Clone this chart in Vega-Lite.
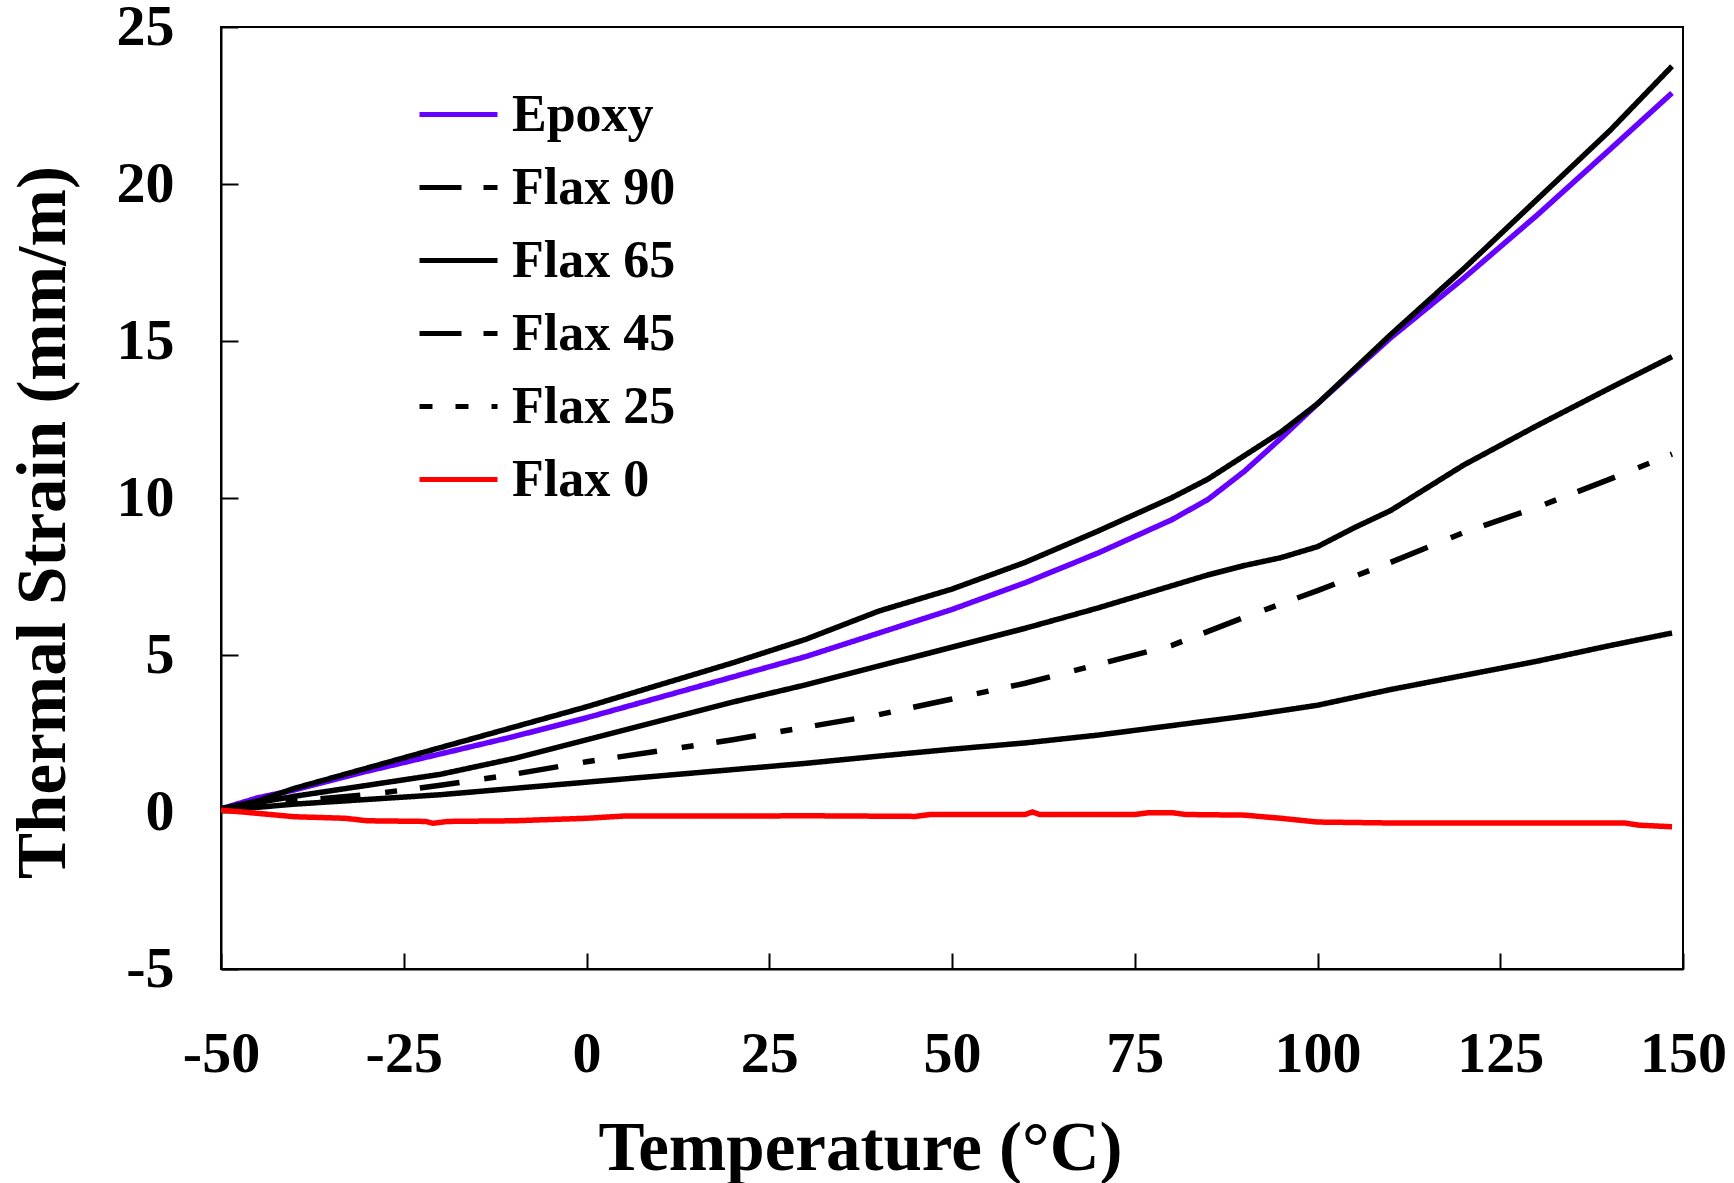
{
  "$schema": "https://vega.github.io/schema/vega-lite/v6.json",
  "autosize": {"type": "none"},
  "padding": {"left": 221, "top": 27, "right": 51, "bottom": 214},
  "width": 1462,
  "height": 942,
  "background": "white",
  "config": {
    "view": {"stroke": "black", "strokeWidth": 2},
    "axis": {
      "domainColor": "black", "domainWidth": 2,
      "tickColor": "black", "tickWidth": 2,
      "labelFont": "Liberation Serif", "labelFontWeight": "bold", "labelFontSize": 58, "labelColor": "black",
      "titleFont": "Liberation Serif", "titleFontWeight": "bold", "titleFontSize": 69, "titleColor": "black",
      "grid": false
    }
  },
  "data": {"values": [
    {"series": "Epoxy", "T": -50, "strain": 0.1},
    {"series": "Epoxy", "T": -45, "strain": 0.45},
    {"series": "Epoxy", "T": -40, "strain": 0.7},
    {"series": "Epoxy", "T": -30, "strain": 1.3},
    {"series": "Epoxy", "T": -20, "strain": 1.85},
    {"series": "Epoxy", "T": -10, "strain": 2.4},
    {"series": "Epoxy", "T": 0, "strain": 3.0},
    {"series": "Epoxy", "T": 10, "strain": 3.65},
    {"series": "Epoxy", "T": 20, "strain": 4.3},
    {"series": "Epoxy", "T": 30, "strain": 4.95},
    {"series": "Epoxy", "T": 40, "strain": 5.7},
    {"series": "Epoxy", "T": 50, "strain": 6.45},
    {"series": "Epoxy", "T": 60, "strain": 7.3},
    {"series": "Epoxy", "T": 70, "strain": 8.25},
    {"series": "Epoxy", "T": 80, "strain": 9.3},
    {"series": "Epoxy", "T": 85, "strain": 9.95},
    {"series": "Epoxy", "T": 90, "strain": 10.85},
    {"series": "Epoxy", "T": 95, "strain": 11.9},
    {"series": "Epoxy", "T": 100, "strain": 13.0},
    {"series": "Epoxy", "T": 110, "strain": 15.1},
    {"series": "Epoxy", "T": 120, "strain": 17.0},
    {"series": "Epoxy", "T": 130, "strain": 19.0},
    {"series": "Epoxy", "T": 140, "strain": 21.1},
    {"series": "Epoxy", "T": 148.5, "strain": 22.9},

    {"series": "Flax 90", "T": -50, "strain": 0.1},
    {"series": "Flax 90", "T": -45, "strain": 0.35},
    {"series": "Flax 90", "T": -40, "strain": 0.75},
    {"series": "Flax 90", "T": -30, "strain": 1.4},
    {"series": "Flax 90", "T": -20, "strain": 2.05},
    {"series": "Flax 90", "T": -10, "strain": 2.7},
    {"series": "Flax 90", "T": 0, "strain": 3.35},
    {"series": "Flax 90", "T": 10, "strain": 4.05},
    {"series": "Flax 90", "T": 20, "strain": 4.75},
    {"series": "Flax 90", "T": 30, "strain": 5.5},
    {"series": "Flax 90", "T": 40, "strain": 6.4},
    {"series": "Flax 90", "T": 50, "strain": 7.1},
    {"series": "Flax 90", "T": 60, "strain": 7.95},
    {"series": "Flax 90", "T": 70, "strain": 8.95},
    {"series": "Flax 90", "T": 80, "strain": 10.0},
    {"series": "Flax 90", "T": 85, "strain": 10.6},
    {"series": "Flax 90", "T": 90, "strain": 11.35},
    {"series": "Flax 90", "T": 95, "strain": 12.1},
    {"series": "Flax 90", "T": 100, "strain": 13.0},
    {"series": "Flax 90", "T": 110, "strain": 15.2},
    {"series": "Flax 90", "T": 120, "strain": 17.3},
    {"series": "Flax 90", "T": 130, "strain": 19.5},
    {"series": "Flax 90", "T": 140, "strain": 21.7},
    {"series": "Flax 90", "T": 148.5, "strain": 23.75},

    {"series": "Flax 65", "T": -50, "strain": 0.1},
    {"series": "Flax 65", "T": -45, "strain": 0.3},
    {"series": "Flax 65", "T": -40, "strain": 0.5},
    {"series": "Flax 65", "T": -30, "strain": 0.85},
    {"series": "Flax 65", "T": -20, "strain": 1.2},
    {"series": "Flax 65", "T": -10, "strain": 1.7},
    {"series": "Flax 65", "T": 0, "strain": 2.3},
    {"series": "Flax 65", "T": 10, "strain": 2.9},
    {"series": "Flax 65", "T": 20, "strain": 3.5},
    {"series": "Flax 65", "T": 30, "strain": 4.05},
    {"series": "Flax 65", "T": 40, "strain": 4.65},
    {"series": "Flax 65", "T": 50, "strain": 5.25},
    {"series": "Flax 65", "T": 60, "strain": 5.85},
    {"series": "Flax 65", "T": 70, "strain": 6.5},
    {"series": "Flax 65", "T": 80, "strain": 7.2},
    {"series": "Flax 65", "T": 85, "strain": 7.55},
    {"series": "Flax 65", "T": 90, "strain": 7.85},
    {"series": "Flax 65", "T": 95, "strain": 8.1},
    {"series": "Flax 65", "T": 100, "strain": 8.45},
    {"series": "Flax 65", "T": 105, "strain": 9.05},
    {"series": "Flax 65", "T": 110, "strain": 9.6},
    {"series": "Flax 65", "T": 120, "strain": 11.05},
    {"series": "Flax 65", "T": 130, "strain": 12.3},
    {"series": "Flax 65", "T": 140, "strain": 13.5},
    {"series": "Flax 65", "T": 148.5, "strain": 14.5},

    {"series": "Flax 45", "T": -50, "strain": 0.1},
    {"series": "Flax 45", "T": -45, "strain": 0.2},
    {"series": "Flax 45", "T": -40, "strain": 0.35},
    {"series": "Flax 45", "T": -30, "strain": 0.55},
    {"series": "Flax 45", "T": -20, "strain": 0.85},
    {"series": "Flax 45", "T": -10, "strain": 1.2},
    {"series": "Flax 45", "T": 0, "strain": 1.6},
    {"series": "Flax 45", "T": 10, "strain": 1.95},
    {"series": "Flax 45", "T": 20, "strain": 2.3},
    {"series": "Flax 45", "T": 30, "strain": 2.7},
    {"series": "Flax 45", "T": 40, "strain": 3.1},
    {"series": "Flax 45", "T": 50, "strain": 3.6},
    {"series": "Flax 45", "T": 60, "strain": 4.1},
    {"series": "Flax 45", "T": 70, "strain": 4.7},
    {"series": "Flax 45", "T": 80, "strain": 5.3},
    {"series": "Flax 45", "T": 90, "strain": 6.2},
    {"series": "Flax 45", "T": 100, "strain": 7.05},
    {"series": "Flax 45", "T": 110, "strain": 7.95},
    {"series": "Flax 45", "T": 120, "strain": 8.9},
    {"series": "Flax 45", "T": 130, "strain": 9.7},
    {"series": "Flax 45", "T": 140, "strain": 10.6},
    {"series": "Flax 45", "T": 148.5, "strain": 11.4},

    {"series": "Flax 25", "T": -50, "strain": 0.1},
    {"series": "Flax 25", "T": -45, "strain": 0.15},
    {"series": "Flax 25", "T": -40, "strain": 0.25},
    {"series": "Flax 25", "T": -30, "strain": 0.4},
    {"series": "Flax 25", "T": -20, "strain": 0.55},
    {"series": "Flax 25", "T": -10, "strain": 0.75},
    {"series": "Flax 25", "T": 0, "strain": 0.95},
    {"series": "Flax 25", "T": 10, "strain": 1.15},
    {"series": "Flax 25", "T": 20, "strain": 1.35},
    {"series": "Flax 25", "T": 30, "strain": 1.55},
    {"series": "Flax 25", "T": 40, "strain": 1.78},
    {"series": "Flax 25", "T": 50, "strain": 2.0},
    {"series": "Flax 25", "T": 60, "strain": 2.2},
    {"series": "Flax 25", "T": 70, "strain": 2.45},
    {"series": "Flax 25", "T": 80, "strain": 2.75},
    {"series": "Flax 25", "T": 90, "strain": 3.05},
    {"series": "Flax 25", "T": 100, "strain": 3.4},
    {"series": "Flax 25", "T": 110, "strain": 3.9},
    {"series": "Flax 25", "T": 120, "strain": 4.35},
    {"series": "Flax 25", "T": 130, "strain": 4.8},
    {"series": "Flax 25", "T": 140, "strain": 5.3},
    {"series": "Flax 25", "T": 148.5, "strain": 5.7},

    {"series": "Flax 0", "T": -50, "strain": 0.06},
    {"series": "Flax 0", "T": -47, "strain": 0.0},
    {"series": "Flax 0", "T": -40, "strain": -0.15},
    {"series": "Flax 0", "T": -33, "strain": -0.2},
    {"series": "Flax 0", "T": -30, "strain": -0.28},
    {"series": "Flax 0", "T": -22, "strain": -0.3},
    {"series": "Flax 0", "T": -21, "strain": -0.36},
    {"series": "Flax 0", "T": -19, "strain": -0.3},
    {"series": "Flax 0", "T": -10, "strain": -0.28},
    {"series": "Flax 0", "T": 0, "strain": -0.2},
    {"series": "Flax 0", "T": 5, "strain": -0.13},
    {"series": "Flax 0", "T": 20, "strain": -0.13},
    {"series": "Flax 0", "T": 30, "strain": -0.12},
    {"series": "Flax 0", "T": 45, "strain": -0.14},
    {"series": "Flax 0", "T": 47, "strain": -0.08},
    {"series": "Flax 0", "T": 60, "strain": -0.08},
    {"series": "Flax 0", "T": 61, "strain": 0.0},
    {"series": "Flax 0", "T": 62, "strain": -0.08},
    {"series": "Flax 0", "T": 75, "strain": -0.08},
    {"series": "Flax 0", "T": 77, "strain": -0.02},
    {"series": "Flax 0", "T": 80, "strain": -0.02},
    {"series": "Flax 0", "T": 82, "strain": -0.08},
    {"series": "Flax 0", "T": 90, "strain": -0.1},
    {"series": "Flax 0", "T": 95, "strain": -0.2},
    {"series": "Flax 0", "T": 100, "strain": -0.32},
    {"series": "Flax 0", "T": 110, "strain": -0.35},
    {"series": "Flax 0", "T": 125, "strain": -0.35},
    {"series": "Flax 0", "T": 142, "strain": -0.35},
    {"series": "Flax 0", "T": 144, "strain": -0.42},
    {"series": "Flax 0", "T": 148.5, "strain": -0.47}
  ]},
  "mark": {"type": "line", "strokeWidth": 5.5, "clip": true},
  "encoding": {
    "x": {
      "field": "T", "type": "quantitative",
      "scale": {"domain": [-50, 150], "nice": false, "zero": false},
      "axis": {
        "title": "Temperature (°C)",
        "values": [-50, -25, 0, 25, 50, 75, 100, 125, 150],
        "labelExpr": "toString(datum.value)",
        "tickSize": -16, "labelPadding": 72, "labelFlush": false,
        "titleX": 639, "titleY": 200, "titleBaseline": "alphabetic"
      }
    },
    "y": {
      "field": "strain", "type": "quantitative",
      "scale": {"domain": [-5, 25], "nice": false, "zero": false},
      "axis": {
        "title": "Thermal Strain (mm/m)",
        "values": [-5, 0, 5, 10, 15, 20, 25],
        "labelExpr": "toString(datum.value)",
        "tickSize": -17, "labelPadding": 64, "labelFlush": false,
        "titleX": -157, "titleY": 495, "titleAngle": -90, "titleBaseline": "alphabetic", "titleAlign": "center"
      }
    },
    "color": {
      "field": "series", "type": "nominal",
      "scale": {
        "domain": ["Epoxy", "Flax 90", "Flax 65", "Flax 45", "Flax 25", "Flax 0"],
        "range": ["#6600FF", "#000000", "#000000", "#000000", "#000000", "#FF0000"]
      },
      "legend": {
        "title": null, "orient": "none", "legendX": 196, "legendY": 46,
        "padding": 0, "symbolType": "stroke", "symbolSize": 6084, "symbolStrokeWidth": 5,
        "labelFont": "Liberation Serif", "labelFontWeight": "bold", "labelFontSize": 52, "labelColor": "black",
        "labelOffset": 12, "labelLimit": 0, "rowPadding": 5,
        "encode": {"symbols": {"update": {"strokeDash": {"signal": "(datum.value === 'Flax 90' || datum.value === 'Flax 45') ? [42, 22, 14, 0] : (datum.value === 'Flax 25' ? [13, 23] : [1, 0])"}}}}
      }
    },
    "strokeDash": {
      "condition": {"test": "datum.series === 'Flax 45'", "value": [40, 25, 12, 23]},
      "value": [1, 0]
    }
  }
}
